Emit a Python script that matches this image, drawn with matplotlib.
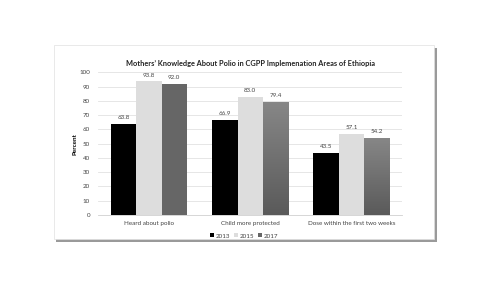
import matplotlib.pyplot as plt
import numpy as np
from matplotlib.colors import LinearSegmentedColormap
from matplotlib.patches import Rectangle

categories = ["Heard about polio", "Child more protected", "Dose within the first two weeks"]
years = ["2013", "2015", "2017"]
values_2013 = [63.8, 66.9, 43.5]
values_2015 = [93.8, 83.0, 57.1]
values_2017 = [92.0, 79.4, 54.2]

plt.rcParams["font.family"] = ["Lato", "DejaVu Sans"]

W, H = 495, 307
fig = plt.figure(figsize=(W / 100, H / 100), dpi=100)
fig.patch.set_facecolor("white")

# card with drop shadow (behind the axes)
fig.patches.append(Rectangle((56 / W, 1 - 242 / H), 381 / W, 194 / H,
                             transform=fig.transFigure, facecolor="#9a9a9a",
                             edgecolor="none", zorder=-2))
fig.patches.append(Rectangle((54 / W, 1 - 239 / H), 380 / W, 194 / H,
                             transform=fig.transFigure, facecolor="white",
                             edgecolor="#e0e0e0", linewidth=0.5, zorder=-1))

ax = fig.add_axes([98.4 / W, 92 / H, 303.6 / W, 142.7 / H])
ax.set_facecolor("none")

x = np.arange(len(categories))
width = 0.25
b1 = ax.bar(x - width, values_2013, width, color="black", label=years[0], zorder=2)
b2 = ax.bar(x, values_2015, width, color="#dddddd", label=years[1], zorder=2)
b3 = ax.bar(x + width, values_2017, width, color="#666666", label=years[2], zorder=2)

# the later 2017 bars fade from lighter grey at the top to darker at the bottom
fade = LinearSegmentedColormap.from_list("fade", ["#5a5a5a", "#878787"])
grad = np.linspace(0, 1, 100).reshape(-1, 1)
for i, bar in enumerate(b3):
    if i == 0:
        continue
    bx, by = bar.get_x(), bar.get_y()
    bw, bh = bar.get_width(), bar.get_height()
    im = ax.imshow(grad, cmap=fade, aspect="auto",
                   extent=(bx, bx + bw, by, by + bh), origin="lower", zorder=3)
    im.set_clip_path(bar)

for bars, vals in [(b1, values_2013), (b2, values_2015), (b3, values_2017)]:
    for bar, v in zip(bars, vals):
        ax.text(bar.get_x() + bar.get_width() / 2, v + 2.5, f"{v:.1f}",
                ha="center", va="bottom", fontsize=4.5, color="#444444")

ax.set_xlim(-0.5, 2.5)
ax.set_ylim(0, 100)
ax.set_yticks(range(0, 101, 10))
ax.set_xticks(x)
ax.set_xticklabels(categories)
ax.tick_params(axis="both", length=0, labelsize=4.5, labelcolor="#444444")
ax.tick_params(axis="y", pad=6)
ax.tick_params(axis="x", pad=4)
ax.grid(axis="y", color="#e2e2e2", linewidth=0.6, zorder=0)
for s in ["top", "right", "left"]:
    ax.spines[s].set_visible(False)
ax.spines["bottom"].set_color("#d0d0d0")
ax.spines["bottom"].set_linewidth(0.6)
ax.set_ylabel("Percent", fontsize=4.5, fontweight="bold", labelpad=1)

ax.set_title("Mothers\u2019 Knowledge About Polio in CGPP Implemenation Areas of Ethiopia",
             fontsize=5.3, fontweight="bold", color="#222222", pad=4.5)

ax.legend(handles=[b1, b2, b3], loc="upper center", bbox_to_anchor=(0.48, -0.09),
          ncol=3, frameon=False, fontsize=4.5, handlelength=0.6, handleheight=0.6,
          handletextpad=0.3, columnspacing=0.6, labelcolor="#444444")

fig.savefig("out.png", dpi=100)
